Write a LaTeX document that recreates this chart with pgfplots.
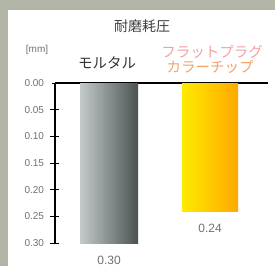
\documentclass[border=0pt]{standalone}
\usepackage{fontspec}
\setmainfont{Liberation Sans}
\newfontfamily\cjk{Noto Sans CJK JP}
\usepackage{pgfplots}
\pgfplotsset{compat=1.18}
\definecolor{framecol}{HTML}{B2B6A6}
\definecolor{tickcol}{HTML}{707070}
\definecolor{grayL}{HTML}{C4CACA}
\definecolor{grayR}{HTML}{4A5252}
\definecolor{yelL}{HTML}{FFEA00}
\definecolor{yelR}{HTML}{FFA800}
\definecolor{pinkcol}{HTML}{F5A0A6}
\definecolor{orangecol}{HTML}{F2A468}
\begin{document}
\begin{tikzpicture}[x=1pt,y=1pt]
\fill[framecol] (0,0) rectangle (275,266);
\fill[white] (8,0) rectangle (275,256);
\node[text=black!75, font=\cjk\fontsize{14}{14}\selectfont] at (142,240) {耐磨耗圧};
\node[text=tickcol, font=\fontsize{10}{10}\selectfont] at (37,216) {[mm]};
\node[text=black!80, font=\cjk\fontsize{14.5}{14.5}\selectfont] at (107,203) {モルタル};
\node[text=pinkcol, font=\cjk\fontsize{14.5}{14.5}\selectfont] at (212,214) {フラットプラグ};
\node[text=orangecol, font=\cjk\fontsize{14.5}{14.5}\selectfont] at (210,199) {カラーチップ};
\begin{axis}[
  at={(55pt,183pt)}, anchor=north west,
  width=213pt, height=160pt, scale only axis,
  y dir=reverse, ymin=0, ymax=0.30,
  xmin=-0.535, xmax=1.574,
  axis x line*=top, axis y line*=left,
  axis line style={-, black, line width=1.2pt},
  xtick=\empty,
  ytick={0,0.05,0.10,0.15,0.20,0.25,0.30},
  yticklabel style={text=tickcol, font=\fontsize{10}{10}\selectfont, xshift=-4pt,
    /pgf/number format/fixed, /pgf/number format/fixed zerofill, /pgf/number format/precision=2, /pgf/number format/assume math mode=true},
  ytick align=center, major tick length=7pt,
  ytick style={draw=black, line width=1pt},
  clip=false,
  nodes near coords,
  every node near coord/.append style={/pgf/number format/fixed, /pgf/number format/fixed zerofill, /pgf/number format/precision=2, /pgf/number format/assume math mode=true, anchor=north, yshift=-10pt, text=tickcol, font=\fontsize{12}{12}\selectfont},
]
\addplot[ybar, bar width=58pt, draw=none, left color=grayL, right color=grayR] coordinates {(0,0.30)};
\addplot[ybar, bar width=56pt, draw=none, left color=yelL, right color=yelR] coordinates {(1,0.24)};
\pgfplotsinvokeforeach{0.05,0.10,0.15,0.20,0.25,0.30}{
  \draw[black, line width=1pt] ([xshift=-5pt]axis cs:-0.535,#1) -- ([xshift=1.5pt]axis cs:-0.535,#1);
}
\end{axis}
\end{tikzpicture}
\end{document}
